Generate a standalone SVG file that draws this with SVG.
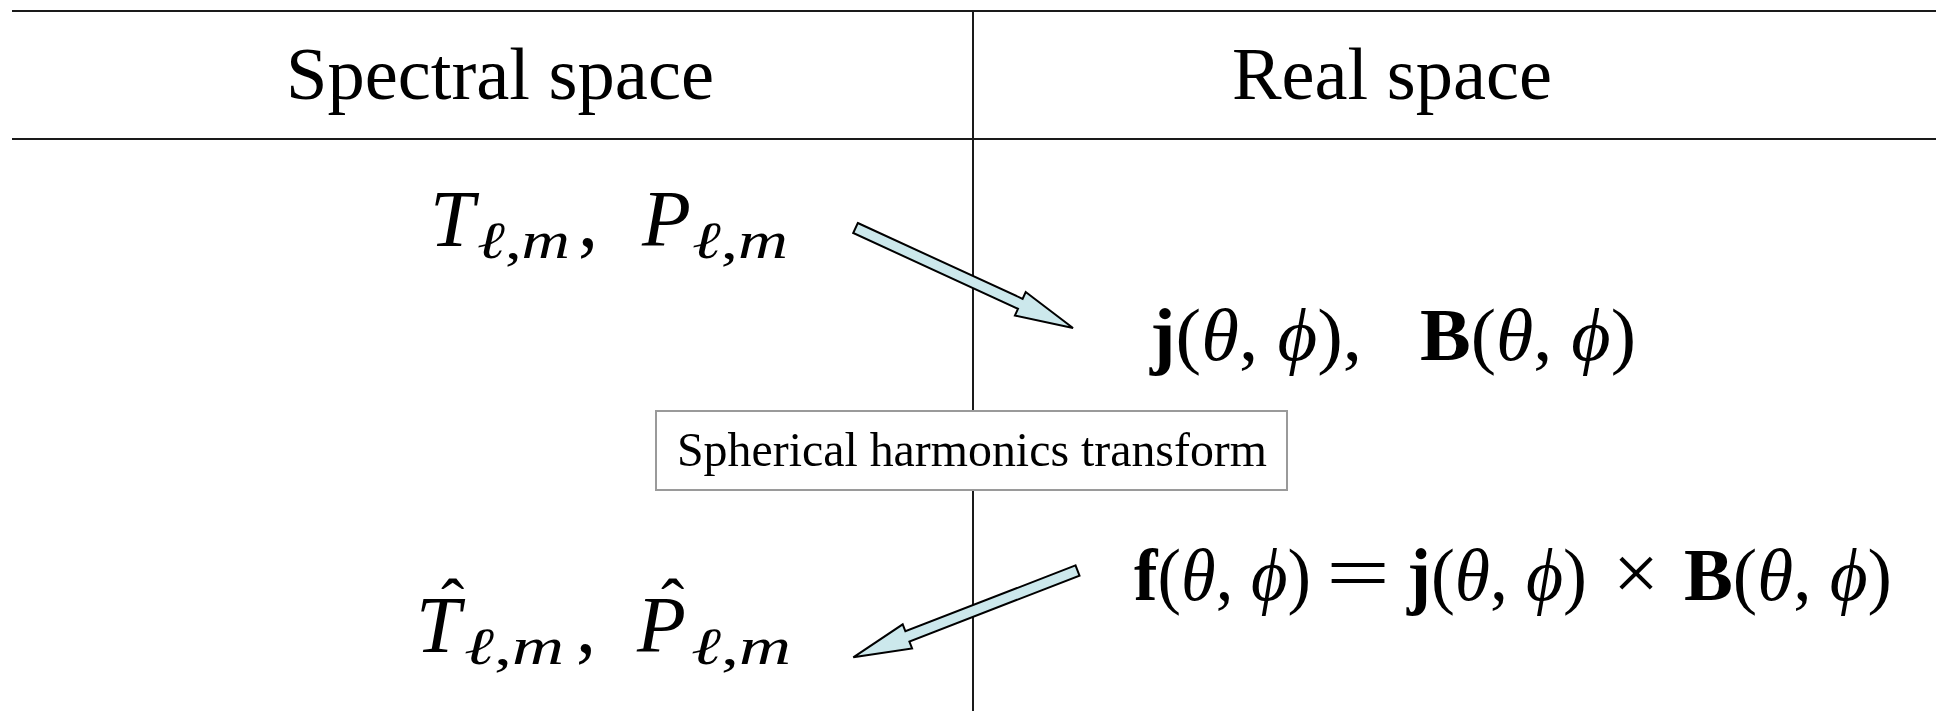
<svg xmlns="http://www.w3.org/2000/svg" width="1936" height="711" viewBox="0 0 1936 711">
<style>
.hdr{font-family:"Liberation Serif","Times New Roman",serif;font-size:75px;fill:#000}
.lbl{font-family:"Liberation Serif","Times New Roman",serif;font-size:49px;fill:#000}
.m{font-family:"Liberation Serif","DejaVu Serif",serif;fill:#000;font-style:italic}
.rm{font-style:normal}
.bf{font-style:normal;font-weight:bold}
.rule{stroke:#1a1a1a;stroke-width:2;fill:none}
.arrow{fill:#cce8ec;stroke:#000;stroke-width:2;stroke-linejoin:miter}
</style>
<rect width="1936" height="711" fill="#fff"/>
<g id="table">
<line class="rule" x1="12" y1="11" x2="1936" y2="11"/>
<line class="rule" x1="12" y1="139" x2="1936" y2="139"/>
<line class="rule" x1="973" y1="11" x2="973" y2="711"/>
</g>
<g id="header-spectral"><text class="hdr" x="286" y="99" textLength="428" lengthAdjust="spacingAndGlyphs">Spectral space</text></g>
<g id="header-real"><text class="hdr" x="1232" y="99" textLength="320" lengthAdjust="spacingAndGlyphs">Real space</text></g>
<g id="connectors">
<polygon class="arrow" points="857.8,223 1022.6,298.8 1025.7,292 1073,328 1014.9,315.6 1018,308.8 853.2,233"/>
<polygon class="arrow" points="1075.5,565.4 905.4,631.3 902.7,624.3 853.3,657.3 912.1,648.5 909.4,641.5 1079.5,575.6"/>
</g>
<g id="spectral-in">
<text class="m" x="430" y="246" font-size="80">T</text>
<text class="m" x="477" y="258" font-size="52" textLength="93" lengthAdjust="spacingAndGlyphs">ℓ<tspan class="rm">,</tspan>m</text>
<text class="m rm" x="578" y="246" font-size="80">,</text>
<text class="m" x="642" y="246" font-size="80">P</text>
<text class="m" x="692" y="258" font-size="52" textLength="96" lengthAdjust="spacingAndGlyphs">ℓ<tspan class="rm">,</tspan>m</text>
</g>
<g id="real-in">
<text class="m" x="1150" y="360" font-size="74" textLength="212" lengthAdjust="spacingAndGlyphs"><tspan class="bf">j</tspan><tspan class="rm">(</tspan>θ<tspan class="rm">, </tspan>ϕ<tspan class="rm">),</tspan></text>
<text class="m" x="1420" y="360" font-size="74" textLength="216" lengthAdjust="spacingAndGlyphs"><tspan class="bf">B</tspan><tspan class="rm">(</tspan>θ<tspan class="rm">, </tspan>ϕ<tspan class="rm">)</tspan></text>
</g>
<g id="transform-label">
<rect x="656" y="411" width="631" height="79" fill="#fff" stroke="#9a9a9a" stroke-width="2"/>
<text class="lbl" x="677" y="466" textLength="590" lengthAdjust="spacingAndGlyphs">Spherical harmonics transform</text>
</g>
<g id="real-out">
<text class="m" x="1134" y="600" font-size="74" textLength="177" lengthAdjust="spacingAndGlyphs"><tspan class="bf">f</tspan><tspan class="rm">(</tspan>θ<tspan class="rm">, </tspan>ϕ<tspan class="rm">)</tspan></text>
<text class="m rm" x="1326" y="600" font-size="80" textLength="64" lengthAdjust="spacingAndGlyphs">=</text>
<text class="m" x="1407" y="600" font-size="74" textLength="180" lengthAdjust="spacingAndGlyphs"><tspan class="bf">j</tspan><tspan class="rm">(</tspan>θ<tspan class="rm">, </tspan>ϕ<tspan class="rm">)</tspan></text>
<text class="m rm" x="1613" y="600" font-size="80" textLength="46" lengthAdjust="spacingAndGlyphs">×</text>
<text class="m" x="1684" y="600" font-size="74" textLength="208" lengthAdjust="spacingAndGlyphs"><tspan class="bf">B</tspan><tspan class="rm">(</tspan>θ<tspan class="rm">, </tspan>ϕ<tspan class="rm">)</tspan></text>
</g>
<g id="spectral-out">
<text class="m" font-size="80"><tspan x="416" y="652">T</tspan><tspan class="rm" x="441" y="627" font-size="70">ˆ</tspan></text>
<text class="m" x="464" y="664" font-size="52" textLength="100" lengthAdjust="spacingAndGlyphs">ℓ<tspan class="rm">,</tspan>m</text>
<text class="m rm" x="576" y="652" font-size="80">,</text>
<text class="m" font-size="80"><tspan x="637" y="652">P</tspan><tspan class="rm" x="661" y="627" font-size="70">ˆ</tspan></text>
<text class="m" x="691" y="664" font-size="52" textLength="100" lengthAdjust="spacingAndGlyphs">ℓ<tspan class="rm">,</tspan>m</text>
</g>
</svg>
